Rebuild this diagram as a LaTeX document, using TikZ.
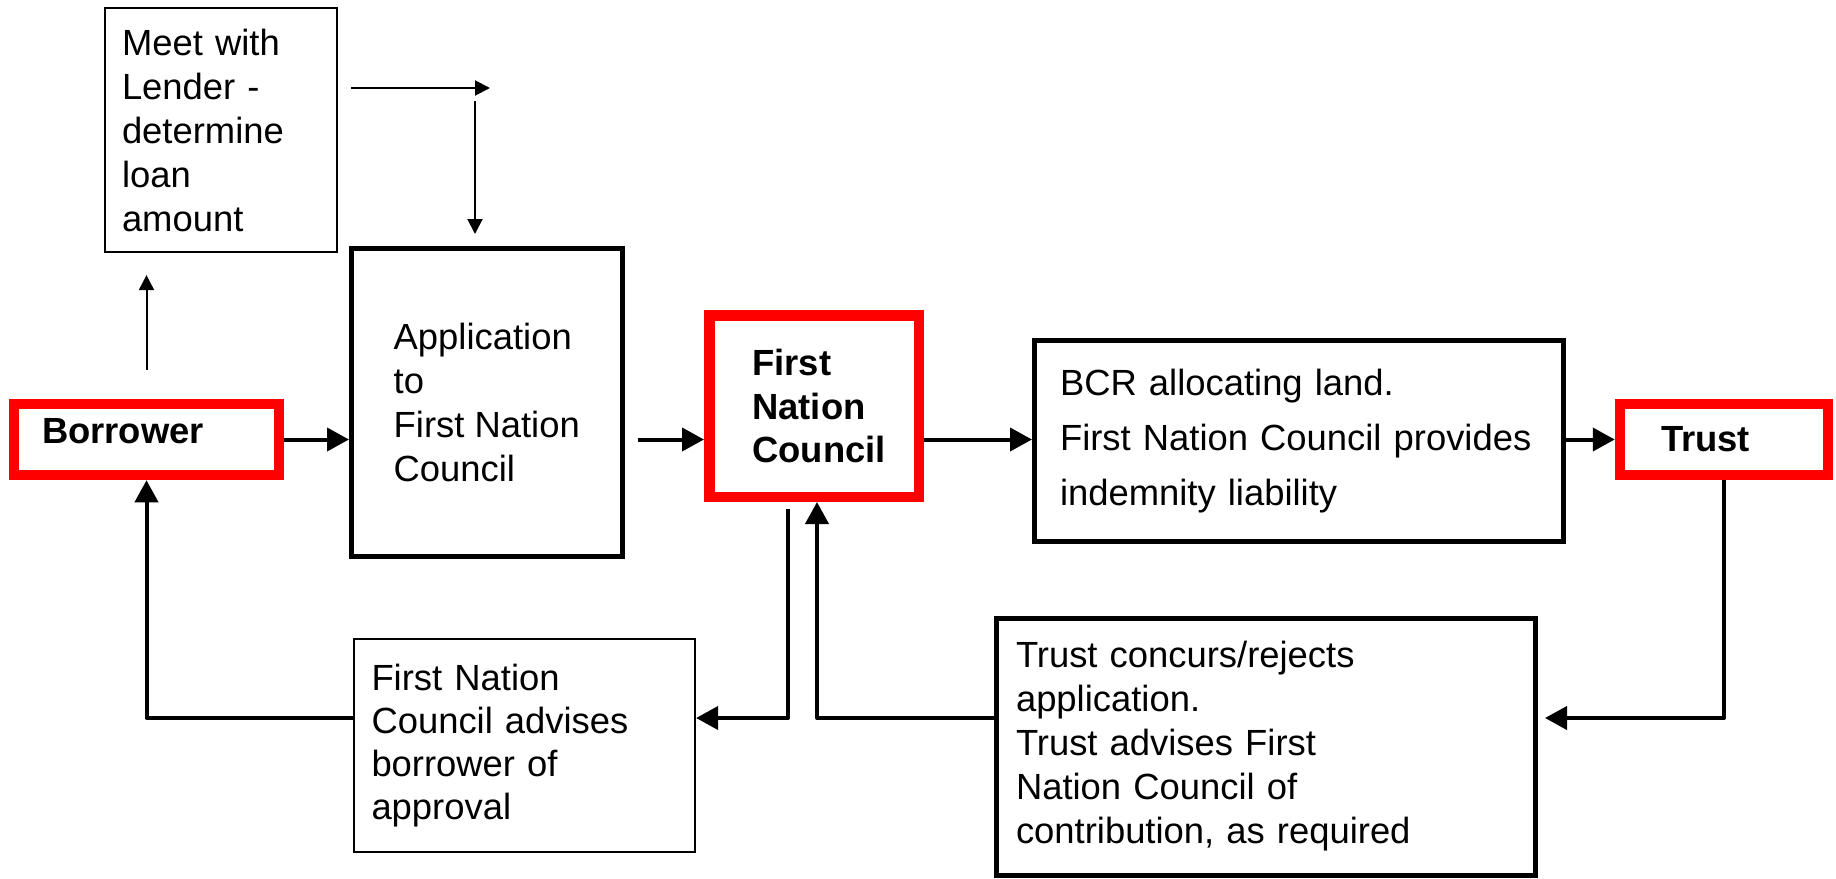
\documentclass[tikz,border=0pt]{standalone}
\usepackage{fontspec}
\setmainfont{Liberation Sans}
\usetikzlibrary{arrows.meta}
\newcommand{\txt}   {\fontsize{18.2pt}{22pt}\selectfont}
\newcommand{\txtbf} {\fontsize{18.2pt}{21.7pt}\selectfont\bfseries}

\begin{document}
\begin{tikzpicture}[x=0.5pt,y=-0.5pt,
  box/.style={draw,line width=2.5pt,inner sep=0pt,align=left,font=\txt},
  thinbox/.style={draw,line width=1.1pt,inner sep=0pt,align=left,font=\txt},
  party/.style={draw=red,line width=5.25pt,inner sep=0pt,align=left,font=\txtbf},
  flow/.style={-{Triangle[length=11pt,width=11.5pt]},line width=2pt,line join=round},
  thinflow/.style={-{Triangle[length=7.5pt,width=7.5pt]},line width=1pt}]
  \useasboundingbox (0,0) rectangle (1836,878);
  % boxes
  \node (meet) at (221,130) [thinbox,minimum width=116pt,minimum height=122pt,text width=99pt]
    {Meet with\\Lender -\\determine\\loan\\amount};
  \node (borrower) at (146.5,439.5) [party,minimum width=132.5pt,minimum height=35.5pt,
    text width=104.5pt,text depth=8.5pt] {Borrower};
  \node (app) at (486.75,402.25) [box,minimum width=135.25pt,minimum height=153.75pt]
    {Application\\to\\First Nation\\Council};
  \node (fnc) at (814,406) [party,minimum width=104.75pt,minimum height=90.75pt,text width=61.75pt]
    {First\\Nation\\Council};
  \node (bcr) at (1298.75,441) [box,minimum width=264.25pt,minimum height=100.25pt,text width=238.75pt,
    font=\fontsize{18.2pt}{27.5pt}\selectfont]
    {BCR allocating land.\\First Nation Council provides\\indemnity liability};
  \node (trust) at (1724,439.5) [party,minimum width=104pt,minimum height=35.5pt,text width=63pt] {Trust};
  \node (adv) at (524.5,745.5) [thinbox,minimum width=170.5pt,minimum height=106.5pt,text width=153pt,
    font=\fontsize{18.2pt}{21.6pt}\selectfont]
    {First Nation\\Council advises\\borrower of\\approval};
  \node (tc) at (1265.75,746.5) [box,minimum width=269.75pt,minimum height=128.5pt,text width=249.75pt]
    {Trust concurs/rejects\\application.\\Trust advises First\\Nation Council of\\contribution, as required};
  % helper points
  \coordinate (bend) at (475,88);
  \coordinate (lend) at (490,88);
  \coordinate (low)  at (0,718);
  % connectors
  \draw[thinflow,shorten <=14.5pt,shorten >=11pt] (borrower.north) -- (borrower.north |- meet.south);
  \draw[thinflow,shorten <=6.5pt] (meet.east |- lend) -- (lend);
  \draw[thinflow,shorten <=6.5pt,shorten >=6pt] (bend) -- (bend |- app.north);
  \draw[flow] (borrower.east) -- (borrower.east -| app.west);
  \draw[flow,shorten <=6.5pt] (app.east |- borrower.east) -- (fnc.west |- borrower.east);
  \draw[flow] (fnc.east |- borrower.east) -- (bcr.west |- borrower.east);
  \draw[flow] (bcr.east |- trust.west) -- (trust.west);
  \draw[flow,shorten >=3.5pt] (trust.south) |- (tc.east |- low);
  \draw[flow] (tc.west |- low) -| ([xshift=1.5pt]fnc.south);
  \draw[flow,shorten <=3.5pt] ([xshift=-13pt]fnc.south) |- (adv.east |- low);
  \draw[flow] (adv.west |- low) -| (borrower.south);
\end{tikzpicture}
\end{document}
